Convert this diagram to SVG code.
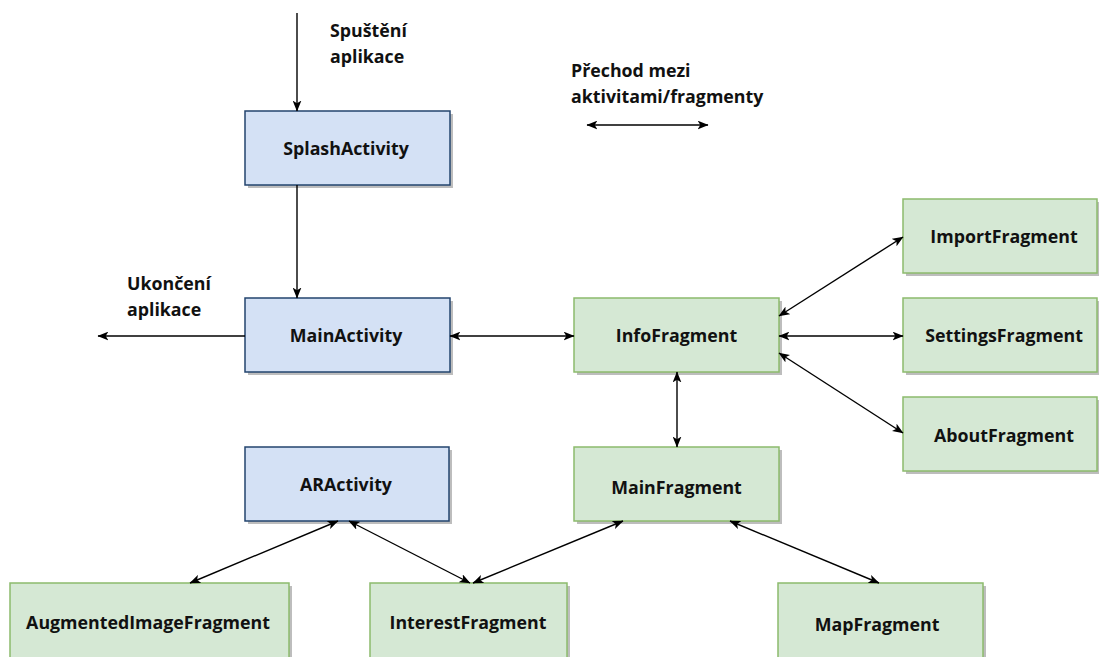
<svg xmlns="http://www.w3.org/2000/svg" width="1099" height="657" viewBox="0 0 1099 657">
  <style>
    .box { stroke-width: 1.5; }
    .act { fill: #d4e1f5; stroke: #23446e; }
    .frag { fill: #d5e8d4; stroke: #8cbb6c; }
    .shadow { fill: #bdbdbd; }
    .lbl { font-family: "Open Sans", "Liberation Sans", sans-serif; font-weight: 700; font-size: 17.8px; fill: #111; }
    .name { text-anchor: middle; }
    .edge { fill: none; stroke: #000; stroke-width: 1.4; }
  </style>
  <defs>
    <marker id="arrow" viewBox="0 0 10 8" refX="9.5" refY="4" markerWidth="11" markerHeight="9" markerUnits="userSpaceOnUse" orient="auto-start-reverse">
      <path d="M0,0 L10,4 L0,8 L2.5,4 Z" fill="#000"/>
    </marker>
  </defs>
  <rect width="1099" height="657" fill="#fff"/>

  <!-- free labels -->
  <g id="label-start">
    <text class="lbl" x="330" y="37">Spuštění</text>
    <text class="lbl" x="330" y="63">aplikace</text>
  </g>
  <g id="label-exit">
    <text class="lbl" x="127" y="290">Ukončení</text>
    <text class="lbl" x="127" y="316">aplikace</text>
  </g>
  <g id="legend">
    <text class="lbl" x="571" y="77">Přechod mezi</text>
    <text class="lbl" x="571" y="103">aktivitami/fragmenty</text>
    <line class="edge" x1="587" y1="125" x2="708" y2="125" marker-start="url(#arrow)" marker-end="url(#arrow)"/>
  </g>

  <!-- activities -->
  <g id="SplashActivity">
    <rect class="shadow" x="248" y="114" width="205" height="74"/>
    <rect class="box act" x="245" y="111" width="205" height="74"/>
    <text class="lbl name" x="346" y="155">SplashActivity</text>
  </g>
  <g id="MainActivity">
    <rect class="shadow" x="248" y="301" width="205" height="74"/>
    <rect class="box act" x="245" y="298" width="205" height="74"/>
    <text class="lbl name" x="346" y="342">MainActivity</text>
  </g>
  <g id="ARActivity">
    <rect class="shadow" x="248" y="450" width="204" height="74"/>
    <rect class="box act" x="245" y="447" width="204" height="74"/>
    <text class="lbl name" x="346" y="491">ARActivity</text>
  </g>

  <!-- fragments -->
  <g id="InfoFragment">
    <rect class="shadow" x="577" y="301" width="205" height="74"/>
    <rect class="box frag" x="574" y="298" width="205" height="74"/>
    <text class="lbl name" x="676.5" y="342">InfoFragment</text>
  </g>
  <g id="ImportFragment">
    <rect class="shadow" x="906" y="202" width="194" height="74"/>
    <rect class="box frag" x="903" y="199" width="194" height="74"/>
    <text class="lbl name" x="1004" y="243">ImportFragment</text>
  </g>
  <g id="SettingsFragment">
    <rect class="shadow" x="906" y="301" width="194" height="74"/>
    <rect class="box frag" x="903" y="298" width="194" height="74"/>
    <text class="lbl name" x="1004" y="342">SettingsFragment</text>
  </g>
  <g id="AboutFragment">
    <rect class="shadow" x="906" y="400" width="194" height="74"/>
    <rect class="box frag" x="903" y="397" width="194" height="74"/>
    <text class="lbl name" x="1004" y="442">AboutFragment</text>
  </g>
  <g id="MainFragment">
    <rect class="shadow" x="577" y="450" width="205" height="74"/>
    <rect class="box frag" x="574" y="447" width="205" height="74"/>
    <text class="lbl name" x="676.5" y="494">MainFragment</text>
  </g>
  <g id="AugmentedImageFragment">
    <rect class="shadow" x="13" y="586" width="279" height="80"/>
    <rect class="box frag" x="10" y="583" width="279" height="80"/>
    <text class="lbl name" x="148" y="629">AugmentedImageFragment</text>
  </g>
  <g id="InterestFragment">
    <rect class="shadow" x="373" y="586" width="197" height="80"/>
    <rect class="box frag" x="370" y="583" width="197" height="80"/>
    <text class="lbl name" x="468" y="629">InterestFragment</text>
  </g>
  <g id="MapFragment">
    <rect class="shadow" x="781" y="586" width="205" height="80"/>
    <rect class="box frag" x="778" y="583" width="205" height="80"/>
    <text class="lbl name" x="877" y="631">MapFragment</text>
  </g>

  <!-- connectors -->
  <g id="connectors">
    <line class="edge" x1="297" y1="13" x2="297" y2="111" marker-end="url(#arrow)"/>
    <line class="edge" x1="297" y1="185" x2="297" y2="298" marker-end="url(#arrow)"/>
    <line class="edge" x1="245" y1="336" x2="98" y2="336" marker-end="url(#arrow)"/>
    <line class="edge" x1="450" y1="336" x2="574" y2="336" marker-start="url(#arrow)" marker-end="url(#arrow)"/>
    <line class="edge" x1="779" y1="316" x2="903" y2="237" marker-start="url(#arrow)" marker-end="url(#arrow)"/>
    <line class="edge" x1="779" y1="336" x2="903" y2="336" marker-start="url(#arrow)" marker-end="url(#arrow)"/>
    <line class="edge" x1="779" y1="353" x2="903" y2="433" marker-start="url(#arrow)" marker-end="url(#arrow)"/>
    <line class="edge" x1="677" y1="372" x2="677" y2="447" marker-start="url(#arrow)" marker-end="url(#arrow)"/>
    <line class="edge" x1="338" y1="521" x2="190" y2="583" marker-start="url(#arrow)" marker-end="url(#arrow)"/>
    <line class="edge" x1="349" y1="521" x2="470" y2="583" marker-start="url(#arrow)" marker-end="url(#arrow)"/>
    <line class="edge" x1="623" y1="521" x2="473" y2="583" marker-start="url(#arrow)" marker-end="url(#arrow)"/>
    <line class="edge" x1="730" y1="521" x2="879" y2="583" marker-start="url(#arrow)" marker-end="url(#arrow)"/>
  </g>
</svg>
